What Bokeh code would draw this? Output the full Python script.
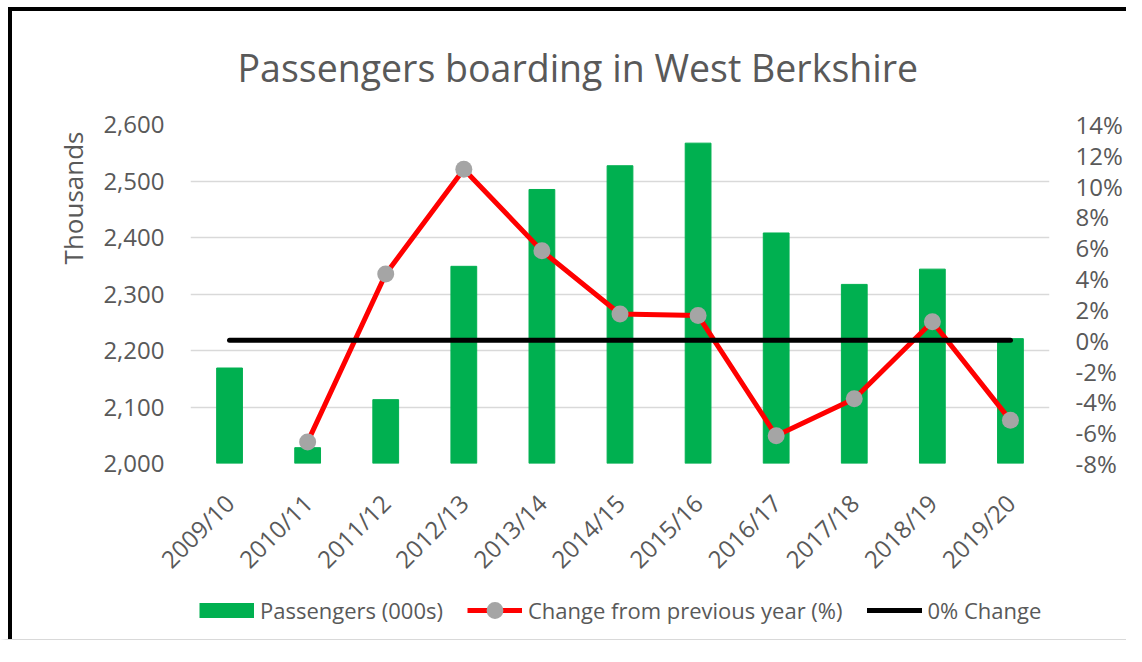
import math
from bokeh.plotting import figure
from bokeh.layouts import column
from bokeh.models import (FactorRange, Range1d, LinearAxis, FixedTicker, NumeralTickFormatter,
                          Legend, LegendItem, Title)
from bokeh.embed import file_html
from bokeh.resources import INLINE

# ---- data ----
years = ["2009/10", "2010/11", "2011/12", "2012/13", "2013/14", "2014/15",
         "2015/16", "2016/17", "2017/18", "2018/19", "2019/20"]
passengers = [2169, 2028, 2113, 2349, 2485, 2527, 2567, 2408, 2317, 2344, 2221]
change_years = years[1:]
change_pct = [-6.6, 4.3, 11.1, 5.8, 1.7, 1.6, -6.2, -3.8, 1.2, -5.2]
zero_years = [years[0], years[-1]]
zero_pct = [0, 0]
left_ticks = [2000, 2100, 2200, 2300, 2400, 2500, 2600]
right_ticks_pct = [-8, -6, -4, -2, 0, 2, 4, 6, 8, 10, 12, 14]

change_frac = [v / 100 for v in change_pct]
zero_frac = [v / 100 for v in zero_pct]
right_ticks = [v / 100 for v in right_ticks_pct]

FONT = "Open Sans"
TXT = "#595959"
GREEN = "#00B050"
RED = "#FF0000"
GREY = "#A5A5A5"

# ---------------- main chart ----------------
p = figure(x_range=FactorRange(factors=years), y_range=Range1d(2000, 2600),
           width=1126, height=582, output_backend="svg", toolbar_location=None,
           min_border_left=182, min_border_right=85, min_border_top=116, min_border_bottom=122)
p.styles = {"border-left": "8px solid #ffffff", "border-top": "7px solid #ffffff",
            "box-shadow": "inset 4px 4px 0 0 #000000"}
p.border_fill_alpha = 0
p.background_fill_color = "#ffffff"
p.outline_line_color = None
p.extra_y_ranges = {"pct": Range1d(-0.08, 0.14)}

# title
p.title.text = "Passengers boarding in West Berkshire"
p.title.align = "left"
p.title.offset = 47
p.title.standoff = 64
p.title.text_font = FONT
p.title.text_font_size = "37.5px"
p.title.text_font_style = "normal"
p.title.text_color = TXT

# left axis
ya = p.yaxis[0]
ya.ticker = FixedTicker(ticks=left_ticks)
ya.formatter = NumeralTickFormatter(format="0,0")
ya.axis_line_color = None
ya.major_tick_line_color = None
ya.minor_tick_line_color = None
ya.major_label_text_font = FONT
ya.major_label_text_font_size = "24px"
ya.major_label_text_color = TXT
ya.major_label_standoff = 20

ylab = Title(text="Thousands", align="right", offset=7, standoff=19,
             text_font=FONT, text_font_size="26px", text_font_style="normal", text_color=TXT)
p.add_layout(ylab, "left")

# right axis
ra = LinearAxis(y_range_name="pct", ticker=FixedTicker(ticks=right_ticks),
                formatter=NumeralTickFormatter(format="0%"))
ra.axis_line_color = None
ra.major_tick_line_color = None
ra.minor_tick_line_color = None
ra.major_label_text_font = FONT
ra.major_label_text_font_size = "24px"
ra.major_label_text_color = TXT
ra.major_label_standoff = 20
p.add_layout(ra, "right")

# x axis
xa = p.xaxis[0]
xa.axis_line_color = None
xa.major_tick_line_color = None
xa.minor_tick_line_color = None
xa.major_label_orientation = math.pi / 4
xa.major_label_text_font = FONT
xa.major_label_text_font_size = "24px"
xa.major_label_text_color = TXT
xa.major_label_standoff = 29

p.xgrid.grid_line_color = None
p.ygrid.grid_line_color = "#D9D9D9"
p.ygrid.grid_line_width = 1.5

p.vbar(x=years, top=passengers, bottom=2000, width=0.33, color=GREEN)
p.line(x=change_years, y=change_frac, y_range_name="pct", line_color=RED, line_width=5)
p.scatter(x=change_years, y=change_frac, y_range_name="pct", size=17,
          fill_color=GREY, line_color=None)
p.line(x=zero_years, y=zero_frac, y_range_name="pct", line_color="#000000",
       line_width=5, line_cap="round")

# ---------------- legend strip ----------------
lg = figure(x_range=FactorRange(factors=years), y_range=Range1d(10000, 10001),
            width=1126, height=58, output_backend="svg", toolbar_location=None,
            x_axis_type=None, y_axis_type=None, min_border=0)
lg.styles = {"border-left": "8px solid #ffffff", "border-bottom": "1px solid #d9d9d9",
             "box-shadow": "inset 4px 0 0 0 #000000"}
lg.border_fill_alpha = 0
lg.background_fill_alpha = 0
lg.outline_line_color = None

# legend swatches (their data lie outside this strip's range, so only the legend shows)
sw_bar = lg.line(x=years, y=passengers, line_color=GREEN, line_width=15)
sw_line = lg.line(x=change_years, y=change_frac, line_color=RED, line_width=5)
sw_dot = lg.scatter(x=change_years, y=change_frac, size=17, fill_color=GREY, line_color=None)
sw_zero = lg.line(x=zero_years, y=zero_frac, line_color="#000000", line_width=5,
                  line_cap="round")

legend = Legend(items=[
    LegendItem(label="Passengers (000s)", renderers=[sw_bar]),
    LegendItem(label="Change from previous year (%)", renderers=[sw_line, sw_dot]),
    LegendItem(label="0% Change", renderers=[sw_zero]),
], orientation="horizontal", location=(9, 9), glyph_width=55, glyph_height=42,
    label_text_font=FONT, label_text_font_size="22px", label_text_color=TXT,
    label_standoff=6, spacing=24, padding=0, margin=0,
    border_line_color=None, background_fill_alpha=0)
lg.add_layout(legend, "center")

layout = column(p, lg, spacing=0)

open("out.html", "w").write(file_html(layout, INLINE))
